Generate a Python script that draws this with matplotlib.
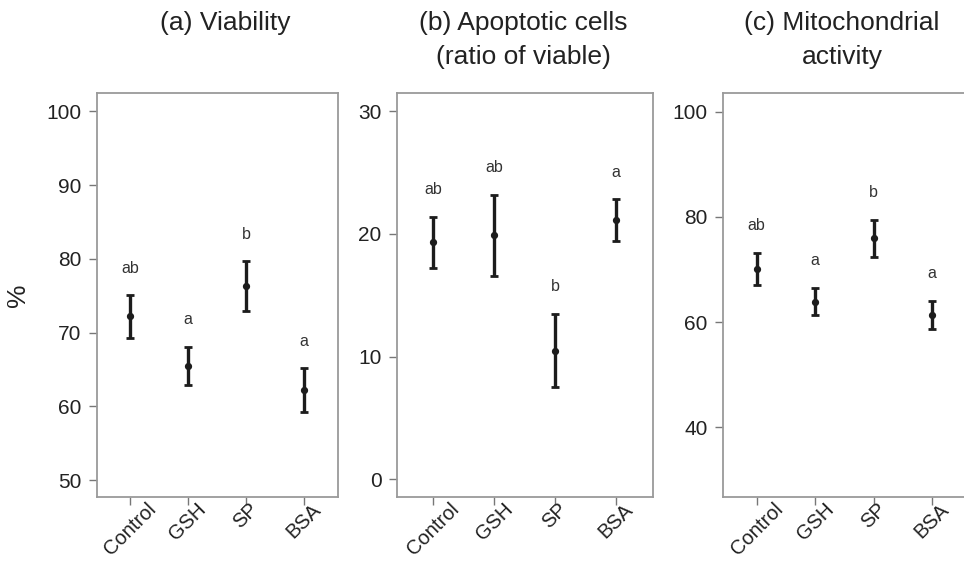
import matplotlib
matplotlib.use("Agg")
import matplotlib.pyplot as plt
import numpy as np

plt.rcParams["font.family"] = ["Liberation Sans", "DejaVu Sans"]

# ------------------------------------------------------------------
# Data (mean +/- error)
# ------------------------------------------------------------------
groups = ["Control", "GSH", "SP", "BSA"]

viability_mean = [72.2, 65.5, 76.3, 62.2]
viability_err = [2.9, 2.6, 3.4, 2.95]
viability_letters = ["ab", "a", "b", "a"]

apoptotic_mean = [19.3, 19.9, 10.5, 21.1]
apoptotic_err = [2.1, 3.3, 3.0, 1.7]
apoptotic_letters = ["ab", "ab", "b", "a"]

mito_mean = [70.1, 63.9, 75.9, 61.4]
mito_err = [3.1, 2.6, 3.55, 2.7]
mito_letters = ["ab", "a", "b", "a"]

INK = "#1c1c1c"
FRAME = "#9a9a9a"
TEXT = "#222222"


def draw_panel(ax, means, errs, letters, ylim, yticks, xlim):
    x = np.arange(len(groups))
    ax.errorbar(x, means, yerr=errs, fmt="o", color=INK, ecolor=INK,
                elinewidth=2.4, capsize=3.2, capthick=2.0, markersize=4.2)

    # significance letters sit a fixed distance above each upper whisker
    for xi, m, e, lab in zip(x, means, errs, letters):
        ax.annotate(lab, xy=(xi, m + e), xytext=(0, 27), textcoords="offset pixels",
                    ha="center", va="center", fontsize=11.5, color="#333333")

    ax.set_xlim(*xlim)
    ax.set_ylim(*ylim)
    ax.set_yticks(yticks)
    ax.set_xticks(x)
    ax.set_xticklabels(groups, rotation=45, ha="center")

    for sp in ax.spines.values():
        sp.set_color(FRAME)
        sp.set_linewidth(1.3)
    ax.tick_params(axis="both", direction="out", length=6, width=1.0,
                   color="#777777", labelsize=15, labelcolor=TEXT, pad=5)
    ax.tick_params(axis="x", labelsize=14.5, pad=-4)


fig = plt.figure(figsize=(9.64, 5.63), dpi=100)

bottom, top = 0.1172, 0.8348
ax_a = fig.add_axes([0.1003, bottom, 0.3506 - 0.1003, top - bottom])
ax_b = fig.add_axes([0.4115, bottom, 0.6771 - 0.4115, top - bottom])
ax_c = fig.add_axes([0.7497, bottom, 1.002 - 0.7497, top - bottom])

draw_panel(ax_a, viability_mean, viability_err, viability_letters,
           (47.7, 102.5), [50, 60, 70, 80, 90, 100], (-0.574, 3.586))
draw_panel(ax_b, apoptotic_mean, apoptotic_err, apoptotic_letters,
           (-1.43, 31.47), [0, 10, 20, 30], (-0.6, 3.6))
draw_panel(ax_c, mito_mean, mito_err, mito_letters,
           (26.75, 103.55), [40, 60, 80, 100], (-0.583, 3.583))

# panel titles, placed by hand above the boxes
title_y = 1 - 11 / 563
fig.text(225 / 964, title_y, "(a) Viability", ha="center", va="top",
         fontsize=19, color=TEXT)
fig.text(523 / 964, title_y, "(b) Apoptotic cells\n(ratio of viable)", ha="center",
         va="top", fontsize=19, color=TEXT, linespacing=1.55)
fig.text(842 / 964, title_y, "(c) Mitochondrial\nactivity", ha="center",
         va="top", fontsize=19, color=TEXT, linespacing=1.55)

ax_a.set_ylabel("%", fontsize=19, color=TEXT, labelpad=12)

fig.savefig("out.png", dpi=100)
